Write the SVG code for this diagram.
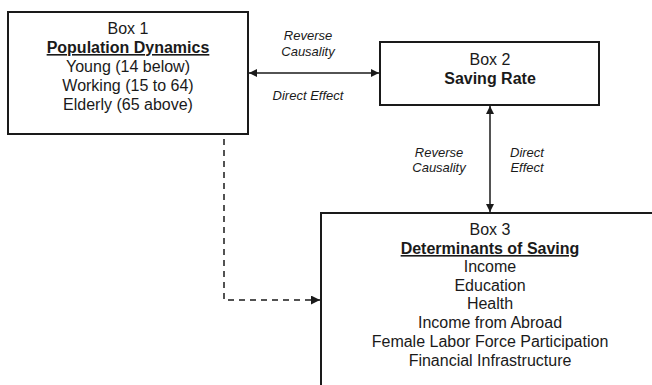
<svg xmlns="http://www.w3.org/2000/svg" width="652" height="385" viewBox="0 0 652 385">
<style>
.box{fill:#fff;stroke:#1a1a1a;stroke-width:2}
.t{font-family:"Liberation Sans",Arial,sans-serif;font-size:16px;fill:#1a1a1a;text-anchor:middle}
.b{font-weight:bold}
.u{text-decoration:underline}
.lab{font-family:"Liberation Sans",Arial,sans-serif;font-size:13px;font-style:italic;fill:#1a1a1a;text-anchor:middle}
.ln{stroke:#1a1a1a;stroke-width:1.5;fill:none}
.dash{stroke-dasharray:6,5}
</style>
<defs>
<marker id="ah" viewBox="0 0 10 10" refX="10" refY="5" markerWidth="8" markerHeight="8" orient="auto-start-reverse" markerUnits="userSpaceOnUse">
<path d="M0,0 L10,5 L0,10 z" fill="#1a1a1a"/>
</marker>
<marker id="ah2" viewBox="0 0 10 10" refX="10" refY="5" markerWidth="9" markerHeight="9" orient="auto" markerUnits="userSpaceOnUse">
<path d="M0,0 L10,5 L0,10 z" fill="#1a1a1a"/>
</marker>
</defs>
<g id="box1">
<rect class="box" x="8" y="12" width="240" height="122"/>
<text class="t" x="128" y="34">Box 1</text>
<text class="t b u" x="128" y="53">Population Dynamics</text>
<text class="t" x="128" y="72">Young (14 below)</text>
<text class="t" x="128" y="91">Working (15 to 64)</text>
<text class="t" x="128" y="110">Elderly (65 above)</text>
</g>
<g id="box2">
<rect class="box" x="380" y="42" width="219" height="63"/>
<text class="t" x="490" y="65">Box 2</text>
<text class="t b" x="490" y="84">Saving Rate</text>
</g>
<g id="box3">
<path class="box" d="M660,213 L321,213 L321,395"/>
<text class="t" x="490" y="235">Box 3</text>
<text class="t b u" x="490" y="254">Determinants of Saving</text>
<text class="t" x="490" y="272">Income</text>
<text class="t" x="490" y="291">Education</text>
<text class="t" x="490" y="309">Health</text>
<text class="t" x="490" y="328">Income from Abroad</text>
<text class="t" x="490" y="347">Female Labor Force Participation</text>
<text class="t" x="490" y="366">Financial Infrastructure</text>
</g>
<g id="connectors">
<line class="ln" x1="249" y1="73" x2="379" y2="73" marker-start="url(#ah)" marker-end="url(#ah)"/>
<line class="ln" x1="490" y1="106" x2="490" y2="212" marker-start="url(#ah)" marker-end="url(#ah)"/>
<polyline class="ln dash" points="224,139 224,300 320,300" marker-end="url(#ah2)"/>
<text class="lab" x="308" y="40">Reverse</text>
<text class="lab" x="308" y="56">Causality</text>
<text class="lab" x="308" y="100">Direct Effect</text>
<text class="lab" x="439" y="157">Reverse</text>
<text class="lab" x="439" y="172">Causality</text>
<text class="lab" x="527" y="157">Direct</text>
<text class="lab" x="527" y="172">Effect</text>
</g>
</svg>
